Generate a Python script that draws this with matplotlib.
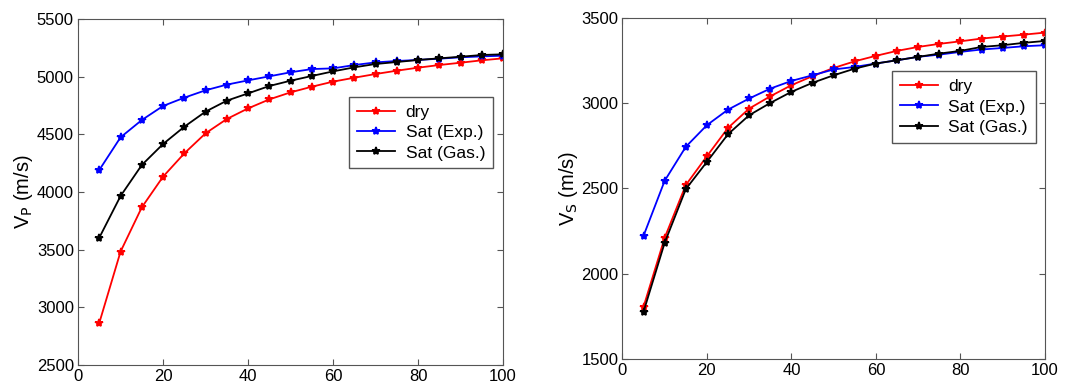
import numpy as np
import matplotlib
matplotlib.use('Agg')
import matplotlib.pyplot as plt

plt.rcParams['font.family'] = ['Liberation Sans', 'DejaVu Sans']
plt.rcParams['mathtext.default'] = 'regular'

# Datos
x = np.arange(5, 101, 5)

vp_dry = [2865, 3483, 3867, 4133, 4335, 4509, 4633, 4725, 4803, 4864,
          4913, 4957, 4991, 5023, 5052, 5078, 5101, 5121, 5142, 5159]
vp_exp = [4191, 4474, 4624, 4746, 4818, 4882, 4931, 4968, 5003, 5038,
          5066, 5072, 5101, 5124, 5136, 5145, 5156, 5168, 5176, 5182]
vp_gas = [3604, 3965, 4234, 4416, 4566, 4697, 4792, 4855, 4919, 4965,
          5006, 5046, 5081, 5110, 5127, 5145, 5159, 5173, 5188, 5194]

vs_dry = [1806, 2210, 2519, 2688, 2854, 2967, 3039, 3104, 3157, 3205,
          3244, 3276, 3305, 3328, 3346, 3361, 3377, 3389, 3400, 3412]
vs_exp = [2222, 2544, 2743, 2870, 2961, 3026, 3084, 3129, 3162, 3196,
          3211, 3231, 3250, 3270, 3283, 3299, 3313, 3322, 3332, 3338]
vs_gas = [1777, 2181, 2495, 2655, 2817, 2928, 3000, 3065, 3118, 3162,
          3201, 3231, 3250, 3270, 3289, 3305, 3328, 3338, 3352, 3363]

etiquetas = ['dry', 'Sat (Exp.)', 'Sat (Gas.)']
colores = ['red', 'blue', 'black']

fig = plt.figure(figsize=(10.75, 3.88), dpi=100)
ax1 = fig.add_axes([0.0726, 0.0593, 0.3954, 0.8917])
ax2 = fig.add_axes([0.579, 0.0747, 0.393, 0.880])

def dibuja(ax, series, ylim, yticks, ylabel, leg_anchor):
    for y, c, lab in zip(series, colores, etiquetas):
        ax.plot(x, y, color=c, marker='*', ms=6, mew=1.2, lw=1.3, label=lab)
    ax.set_xlim(0, 100)
    ax.set_ylim(*ylim)
    ax.set_xticks(range(0, 101, 20))
    ax.set_yticks(yticks)
    ax.tick_params(direction='in', top=True, right=True, labelsize=12,
                   length=4, color='#555555', pad=3)
    for lbl in ax.get_xticklabels() + ax.get_yticklabels():
        lbl.set_fontweight('medium')
    for s in ax.spines.values():
        s.set_color('#555555')
    ax.set_ylabel(ylabel, fontsize=14.5, labelpad=1)
    leg = ax.legend(loc='upper left', bbox_to_anchor=leg_anchor, fontsize=12.5,
                    fancybox=False, edgecolor='#555555', framealpha=1,
                    borderpad=0.45, labelspacing=0.3, handlelength=2.2,
                    handletextpad=0.6, borderaxespad=0)
    leg.get_frame().set_linewidth(1.0)

dibuja(ax1, [vp_dry, vp_exp, vp_gas], (2500, 5500), range(2500, 5501, 500),
       r'V$_\mathrm{P}$ (m/s)', (0.638, 0.775))
dibuja(ax2, [vs_dry, vs_exp, vs_gas], (1500, 3500), range(1500, 3501, 500),
       r'V$_\mathrm{S}$ (m/s)', (0.638, 0.843))

fig.savefig('out.png', dpi=100)
